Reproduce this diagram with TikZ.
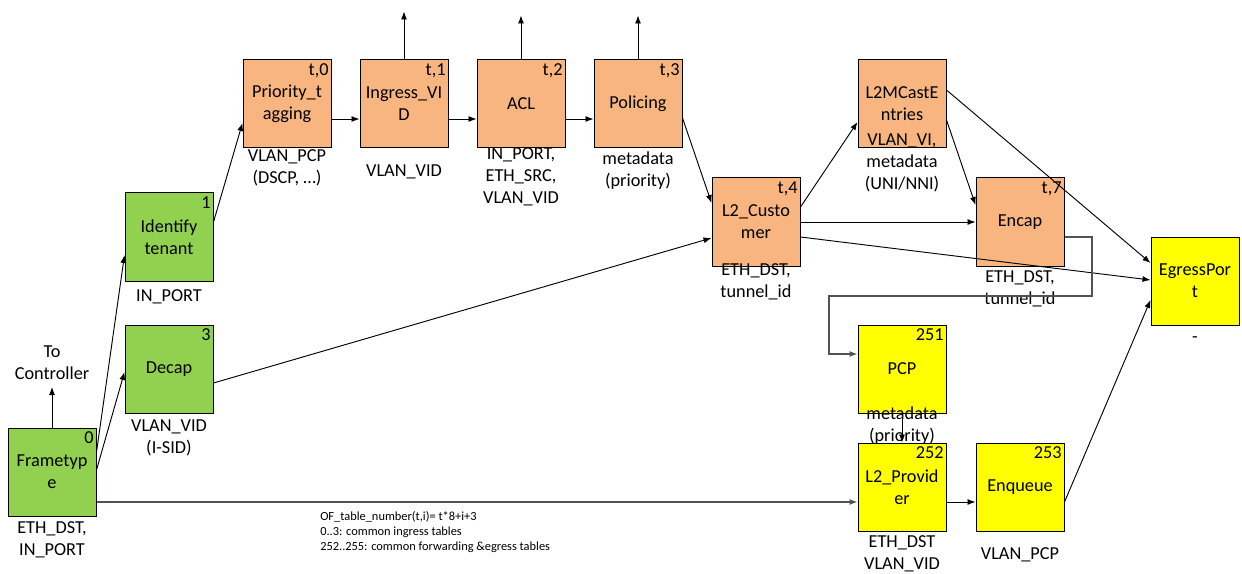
\documentclass[tikz,border=0pt]{standalone}
\usepackage{fontspec}
\setmainfont{Carlito}
\usetikzlibrary{arrows.meta}
\definecolor{tgreen}{HTML}{92D050}
\definecolor{torange}{HTML}{F8B57F}
\definecolor{tyellow}{HTML}{FFFF00}
\begin{document}
\begin{tikzpicture}[x=0.75pt,y=-0.75pt,
  tbl/.style={draw=black, line width=0.75pt, minimum width=66pt, minimum height=66pt,
    inner sep=0pt, align=center, font=\fontsize{13.7}{16.5}\selectfont},
  gbox/.style={tbl, fill=tgreen},
  obox/.style={tbl, fill=torange},
  ybox/.style={tbl, fill=tyellow},
  num/.style={anchor=north east, inner xsep=2pt, inner ysep=2.8pt, font=\fontsize{13.7}{16.5}\selectfont},
  lbl/.style={align=center, inner sep=0pt, font=\fontsize{13.7}{16.5}\selectfont},
  arr/.style={line width=0.7pt, -{Latex[length=6pt,width=4.5pt]}},
  garr/.style={line width=0.9pt, draw=black!68, -{Latex[length=6pt,width=4.5pt]}}
]
\useasboundingbox (0,0) rectangle (1242,574);

% boxes and labels
\node[gbox] (frame) at (52,472) {Frametyp\\e};
\node[num] at (frame.north east) {0};
\node[lbl] (framel) at (52,540) {ETH\_DST,\\IN\_PORT};

\node[gbox] (ident) at (169,237) {Identify\\tenant};
\node[num] at (ident.north east) {1};
\node[lbl] (identl) at (169,297) {IN\_PORT};

\node[gbox] (decap) at (169,369) {Decap};
\node[num] at (decap.north east) {3};
\node[lbl] (decapl) at (169,438) {VLAN\_VID\\(I-SID)};

\node[obox] (prio) at (287,104) {Priority\_t\\agging};
\node[num] at (prio.north east) {t,0};
\node[lbl] (priol) at (287,168) {VLAN\_PCP\\(DSCP, …)};

\node[obox] (ingr) at (404,104) {Ingress\_VI\\D};
\node[num] at (ingr.north east) {t,1};
\node[lbl] (ingrl) at (404,172) {VLAN\_VID};

\node[obox] (acl) at (521,104) {ACL};
\node[num] at (acl.north east) {t,2};
\node[lbl] (acll) at (521,177) {IN\_PORT,\\ETH\_SRC,\\VLAN\_VID};

\node[obox] (pol) at (638,104) {Policing};
\node[num] at (pol.north east) {t,3};
\node[lbl] (poll) at (638,171) {metadata\\(priority)};

\node[obox] (cust) at (756,222) {L2\_Custo\\mer};
\node[num] at (cust.north east) {t,4};
\node[lbl] (custl) at (756,282) {ETH\_DST,\\tunnel\_id};

\node[obox] (mcast) at (902,104) {L2MCastE\\ntries};
\node[lbl] (mcastl) at (902,163) {VLAN\_VI,\\metadata\\(UNI/NNI)};

\node[obox] (encap) at (1020,222) {Encap};
\node[num] at (encap.north east) {t,7};
\node[lbl] (encapl) at (1020,289) {ETH\_DST,\\tunnel\_id};

\node[ybox] (egress) at (1195,281) {EgressPor\\t};
\node[lbl] (egressl) at (1195,340) {-};

\node[ybox] (pcp) at (902,369) {PCP};
\node[num] at (pcp.north east) {251};
\node[lbl] (pcpl) at (902,426) {metadata\\(priority)};

\node[ybox] (prov) at (902,487) {L2\_Provid\\er};
\node[num] at (prov.north east) {252};
\node[lbl] (provl) at (902,554) {ETH\_DST\\VLAN\_VID};

\node[ybox] (enq) at (1020,487) {Enqueue};
\node[num] at (enq.north east) {253};
\node[lbl] (enql) at (1020,555) {VLAN\_PCP};

\node[lbl] (ctrltxt) at (52,363) {To\\Controller};
\coordinate (ctrl) at (52,387);

\node[align=left, anchor=west, inner sep=0pt, font=\fontsize{9.3}{10.9}\selectfont] (note) at (320,532)
  {OF\_table\_number(t,i)= t*8+i+3\\0..3: common ingress tables\\252..255: common forwarding \&egress tables};

% connectors
\draw[arr] (frame.north) -- (ctrl);
\draw[arr] (frame.east |- 0,452) -- (ident.west |- 0,255);
\draw[arr] (frame.east |- 0,470) -- (decap.west |- 0,372);
\draw[garr] (frame.east |- 0,502) -- (prov.west |- 0,502);
\draw[arr] (ident.east |- 0,222) -- (prio.west |- 0,123);
\draw[arr] (prio.east |- 0,119) -- (ingr.west |- 0,119);
\draw[arr] (ingr.east |- 0,119) -- (acl.west |- 0,119);
\draw[arr] (acl.east |- 0,119) -- (pol.west |- 0,119);
\draw[arr] (ingr.north) -- ++(0,-48);
\draw[arr] (acl.north) -- ++(0,-44);
\draw[arr] (pol.north) -- ++(0,-44);
\draw[arr] (pol.east |- 0,118) -- (cust.west |- 0,203);
\draw[arr] (decap.east |- 0,383) -- (cust.west |- 0,238);
\draw[arr] (cust.east |- 0,207) -- (mcast.west |- 0,122);
\draw[arr] (cust.east |- 0,222) -- (encap.west |- 0,222);
\draw[arr] (cust.east |- 0,237) -- (egress.west |- 0,280);
\draw[arr] (mcast.east |- 0,90) -- (egress.west |- 0,263);
\draw[arr] (mcast.east |- 0,120) -- (encap.west |- 0,205);
\draw[garr] (encap.east |- 0,237) -- (1092,237) -- (1092,296) -- (829,296) -- (829,354) -- (pcp.west |- 0,354);
\draw[arr] (pcp.south) -- (prov.north);
\draw[arr] (prov.east |- 0,502) -- (enq.west |- 0,502);
\draw[arr] (enq.east |- 0,502) -- (egress.west |- 0,300);
\end{tikzpicture}
\end{document}
